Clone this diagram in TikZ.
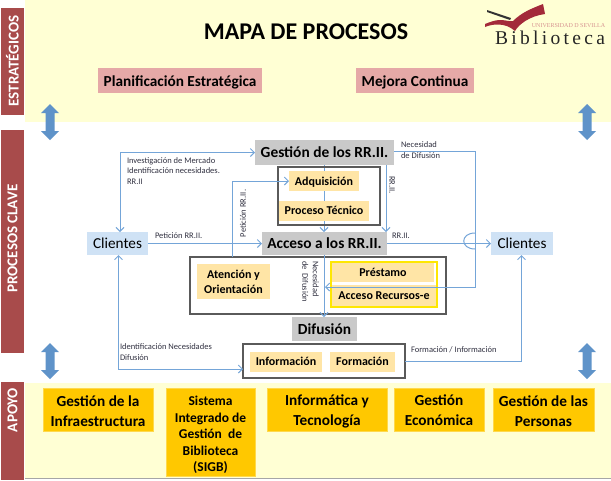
\documentclass[tikz,border=0pt]{standalone}
\usepackage{fontspec}
\setmainfont{Carlito}
\newfontfamily\logofont{Liberation Serif}
\usetikzlibrary{arrows.meta}
\pgfdeclarelayer{back}
\pgfsetlayers{back,main}
\definecolor{band}{HTML}{FFFFD4}
\definecolor{sidered}{HTML}{A84B4B}
\definecolor{pinkbox}{HTML}{E5A9A7}
\definecolor{greybox}{HTML}{C9C9C9}
\definecolor{bluebox}{HTML}{CFE2F5}
\definecolor{peach}{HTML}{FFE5A6}
\definecolor{amber}{HTML}{FFC800}
\definecolor{linkblue}{HTML}{74A5D8}
\definecolor{blockblue}{HTML}{5F93C9}
\definecolor{frame}{HTML}{5A5A5A}
\definecolor{smalltxt}{HTML}{303040}
\definecolor{logored}{HTML}{A32A3A}
\newcommand{\bx}[7][]{\node[#1,minimum width={(#4-#2)*1pt},minimum height={(#5-#3)*1pt}] (#6) at ({(#2+#4)/2},{(#3+#5)/2}) {#7};}
\newcommand{\dn}[2]{\raisebox{-#1}[\height][\depth]{\begin{tabular}{@{}c@{}}#2\end{tabular}}}
% vertical double block arrow: centre x, top y, bottom y
\newcommand{\blockarrow}[3]{\fill[blockblue] (#1,#2) -- ({#1+9},{#2+9}) -- ({#1+4.5},{#2+9}) -- ({#1+4.5},{#3-9}) -- ({#1+9},{#3-9}) -- (#1,#3) -- ({#1-9},{#3-9}) -- ({#1-4.5},{#3-9}) -- ({#1-4.5},{#2+9}) -- ({#1-9},{#2+9}) -- cycle;}
\tikzset{
  x=1pt,y=-1pt,
  plain/.style={inner sep=0pt,outer sep=0pt,align=center,text=black},
  side/.style={plain,fill=sidered},
  sidetxt/.style={plain,text=white,font=\fontsize{15}{17}\selectfont\bfseries,rotate=90},
  strat/.style={plain,fill=pinkbox,font=\fontsize{15.3}{18}\selectfont\bfseries},
  grey/.style={plain,fill=greybox,font=\fontsize{15.4}{19}\selectfont\bfseries},
  client/.style={plain,fill=bluebox,font=\fontsize{15.2}{19}\selectfont},
  sub/.style={plain,fill=peach,font=\fontsize{12}{14.5}\selectfont\bfseries},
  support/.style={plain,fill=amber,draw=amber!70!white,line width=.5pt,font=\fontsize{15.3}{19.5}\selectfont\bfseries},
  frm/.style={plain,draw=frame,line width=1.6pt},
  conn/.style={draw=linkblue,line width=1pt},
  tip/.style={-{Straight Barb[length=4pt,width=8pt,line width=1pt]}},
  bitip/.style={{Straight Barb[length=4pt,width=8pt,line width=1pt]}-{Straight Barb[length=4pt,width=8pt,line width=1pt]}},
  small/.style={inner sep=0pt,outer sep=0pt,align=left,text=smalltxt,font=\fontsize{8.5}{10.5}\selectfont},
}
\begin{document}
\begin{tikzpicture}
\useasboundingbox (0,0) rectangle (611,480);
% bands
\begin{pgfonlayer}{back}
\fill[band] (25,0) rectangle (611,122);
\fill[band] (25,383) rectangle (611,478);
\draw[gray!70,line width=.8pt] (25,478) -- (611,478);
\end{pgfonlayer}
% side labels
\bx[side]{1}{8}{24}{115}{s1}{}
\bx[side]{1}{130}{24}{353}{s2}{}
\bx[side]{1}{382}{24}{480}{s3}{}
\node[sidetxt] (s1t) at (12.5,61) {ESTRATÉGICOS};
\node[sidetxt] (s2t) at (12.5,238.5) {PROCESOS CLAVE};
\node[sidetxt] (s3t) at (12.5,410) {APOYO};
% title
\node[plain,font=\fontsize{24}{28}\selectfont\bfseries] (title) at (306,32) {MAPA DE PROCESOS};
% logo
\fill[logored] (543,4) .. controls (533,8) and (522,12) .. (513,21) .. controls (511,22) and (506,20) .. (500,20) .. controls (495,20) and (490,22) .. (485,24) -- (485,27) .. controls (492,24) and (505,22) .. (515,31) .. controls (519,24) and (530,16) .. (545,14) -- cycle;
\fill[black!80] (487,10) -- (511,18) -- (510,20) -- (487,12) -- cycle;
\node[plain,text=pinkbox!75!sidered,font=\logofont\fontsize{6}{7}\selectfont] (univ) at (568.5,26) {UNIVERSIDAD D SEVILLA};
\node[plain,text=black!85,font=\logofont\fontsize{19.5}{21}\selectfont\addfontfeature{LetterSpace=17}] (bib) at (550,37.5) {Biblioteca};
% strategic
\bx[strat]{98}{68}{262}{93}{plan}{\dn{2.5pt}{Planificación Estratégica}}
\bx[strat]{356}{68}{474}{93}{mej}{\dn{2.5pt}{Mejora Continua}}
% block arrows
\blockarrow{50}{104}{140}
\blockarrow{587}{104}{140}
\blockarrow{50}{343}{379}
\blockarrow{587}{343}{379}
% key processes
\bx[grey]{255}{140}{394}{165}{gest}{\dn{1.5pt}{Gestión de los RR.II.}}
\bx[frm]{278}{167}{380}{225}{fr1}{}
\bx[sub]{289}{171}{359}{191}{adq}{\dn{1.5pt}{Adquisición}}
\bx[sub]{279}{201}{369}{221}{tec}{\dn{1pt}{Proceso Técnico}}
\bx[client]{87}{232}{148}{255}{cl}{\dn{1.5pt}{Clientes}}
\bx[grey]{262}{232}{387}{255}{acc}{\dn{1.5pt}{Acceso a los RR.II.}}
\bx[client]{491}{232}{553}{255}{cr}{\dn{1.5pt}{Clientes}}
\bx[frm]{190}{257}{446}{314}{fr2}{}
\bx[sub]{197}{264}{270}{299}{ate}{\dn{1.5pt}{Atención y\\Orientación}}
\bx[plain,draw=yellow!90!orange,line width=1.2pt]{331}{262}{437}{307}{yel}{}
\bx[sub]{332}{263}{434}{282}{pre}{\dn{1pt}{Préstamo}}
\bx[sub]{332}{285}{436}{306}{rec}{\dn{1.5pt}{Acceso Recursos-e}}
\bx[grey]{292}{317}{357}{341}{dif}{\dn{1.5pt}{Difusión}}
\bx[frm]{243}{344}{405}{378}{fr3}{}
\bx[sub]{250}{352}{322}{372}{inf}{\dn{1pt}{Información}}
\bx[sub]{330}{352}{395}{372}{for}{\dn{1pt}{Formación}}
% support
\bx[support]{43}{388}{153}{431}{s1b}{\dn{3pt}{Gestión de la\\Infraestructura}}
\bx[support,font=\fontsize{13.5}{16.4}\selectfont\bfseries]{166}{388}{255}{476}{s2b}{\dn{3.5pt}{Sistema\\Integrado de\\Gestión~ de\\Biblioteca\\(SIGB)}}
\bx[support]{267}{388}{387}{431}{s3b}{\dn{2pt}{Informática y\\Tecnología}}
\bx[support]{394}{388}{484}{431}{s4b}{\dn{2pt}{Gestión\\Económica}}
\bx[support]{493}{388}{594}{431}{s5b}{\dn{3pt}{Gestión de las\\Personas}}
% connectors behind the boxes
\begin{pgfonlayer}{back}
\draw[conn,tip] ([xshift=-0.5pt]gest.south) -- ([xshift=-0.5pt]gest.south |- acc.north);
\end{pgfonlayer}
% connectors
\draw[conn,bitip] ([xshift=2.5pt]cl.north) |- (gest.west);
\draw[conn,tip] (cl.east) -- (acc.west);
\coordinate (pup) at (232,257);
\draw[conn,tip] (pup) |- (adq.west);
\draw[conn,tip] ([xshift=-8pt]gest.south east) -- ([xshift=-8pt]gest.south east |- acc.north);
\coordinate (nturn) at (475,151);
\coordinate (nend) at (325,287);
\draw[conn,tip] (gest.east |- nturn) -- (nturn) |- (nend);
\draw[conn,tip] (acc.east) -- (cr.west);
\coordinate (hopa) at (475,233);
\coordinate (hopb) at (475,249);
\draw[conn] (hopa) .. controls (460,233) and (460,249) .. (hopb);
\draw[conn,tip] ([xshift=-0.5pt]acc.south) -- ([xshift=-0.5pt]acc.south |- dif.north);
\draw[conn,bitip] ([xshift=1pt]cl.south) |- ([yshift=-8pt]fr3.west);
\draw[conn,tip] (fr3.east) -| ([xshift=-0.5pt]cr.south);
% connector labels
\node[small,anchor=north west] (l1) at (127,157.5) {Investigación de Mercado\\Identificación necesidades.\\RR.II};
\node[small,anchor=west] (l2) at (155,236) {Petición RR.II.};
\node[small,rotate=90] (l3) at (243,213.5) {Petición RR.II.};
\node[small,rotate=-90] (l4) at (392,185) {RR.II.};
\node[small,anchor=north west] (l5) at (401,142) {Necesidad\\de Difusión};
\node[small,anchor=west] (l6) at (392,236) {RR.II.};
\node[small,rotate=-90,anchor=center] (l7) at (310.5,281.5) {Necesidad\\de~ Difusión};
\node[small,anchor=north west] (l8) at (120,344) {Identificación Necesidades\\Difusión};
\node[small,anchor=west] (l9) at (411,350) {Formación / Información};
\end{tikzpicture}
\end{document}
